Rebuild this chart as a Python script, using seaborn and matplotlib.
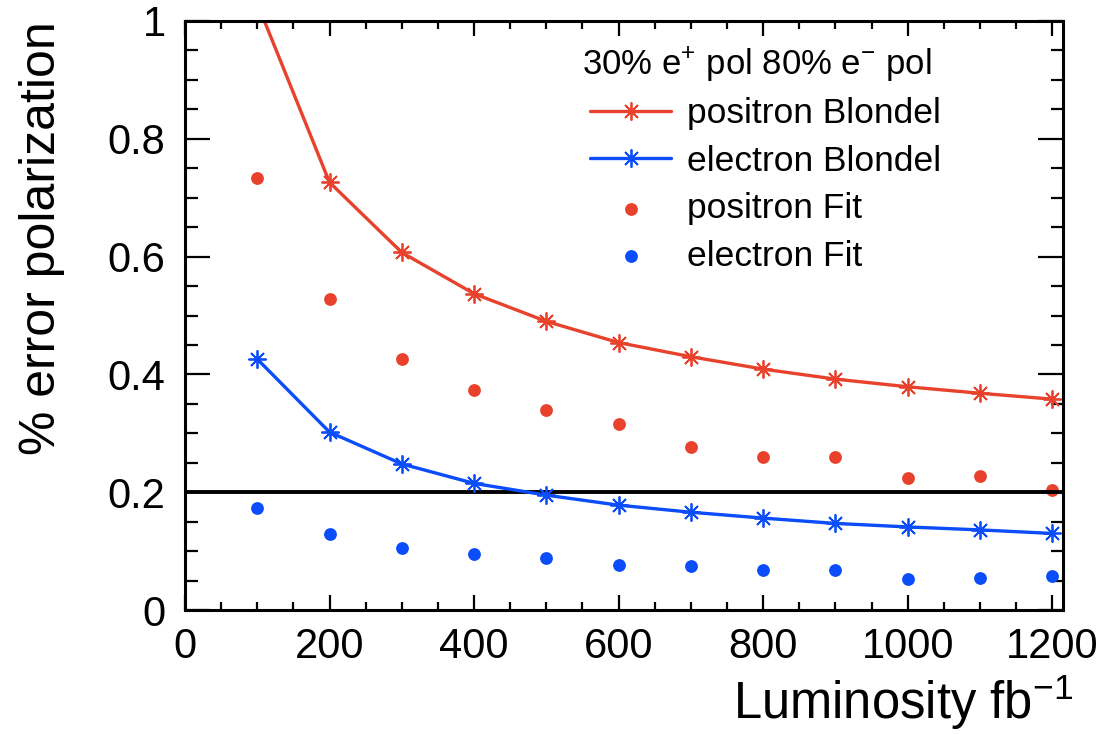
import matplotlib
matplotlib.use("Agg")
from matplotlib import pyplot as plt
from matplotlib.ticker import MultipleLocator, FuncFormatter
import seaborn as sns

# luminosity points [fb^-1]
lumi = [100, 200, 300, 400, 500, 600, 700, 800, 900, 1000, 1100, 1200]

# % error on polarization
pos_blondel = [1.03, 0.726, 0.607, 0.537, 0.490, 0.454, 0.430, 0.409, 0.392, 0.379, 0.368, 0.358]
ele_blondel = [0.426, 0.302, 0.248, 0.215, 0.195, 0.178, 0.166, 0.156, 0.147, 0.141, 0.136, 0.130]
pos_fit = [0.733, 0.528, 0.426, 0.374, 0.340, 0.315, 0.277, 0.259, 0.259, 0.224, 0.228, 0.204]
ele_fit = [0.173, 0.129, 0.106, 0.095, 0.089, 0.076, 0.075, 0.068, 0.068, 0.053, 0.054, 0.057]

target = 0.2
red = '#e8412c'
blue = '#0b4cfb'

sns.set_style("ticks")
plt.rcParams['font.family'] = ['Liberation Sans', 'DejaVu Sans']
plt.rcParams['mathtext.fontset'] = 'custom'
plt.rcParams['mathtext.rm'] = 'Liberation Sans'
plt.rcParams['mathtext.it'] = 'Liberation Sans:italic'
for key in ['text.color', 'axes.labelcolor', 'xtick.color', 'ytick.color',
            'axes.edgecolor']:
    plt.rcParams[key] = 'black'

my_dpi = 100
fig = plt.figure(figsize=(1106 / my_dpi, 734 / my_dpi), dpi=my_dpi)
ax = fig.add_axes([185 / 1106, 1 - 610 / 734, 878 / 1106, 589 / 734])

star = (8, 2, 0)
sns.lineplot(x=lumi, y=pos_blondel, color=red, linewidth=2.4, marker=star,
             markersize=13, markeredgecolor=red, markeredgewidth=1.3,
             label='positron Blondel', ax=ax)
sns.lineplot(x=lumi, y=ele_blondel, color=blue, linewidth=2.4, marker=star,
             markersize=13, markeredgecolor=blue, markeredgewidth=1.3,
             label='electron Blondel', ax=ax)
sns.scatterplot(x=lumi, y=pos_fit, color=red, s=85, linewidth=0,
                label='positron Fit', ax=ax)
sns.scatterplot(x=lumi, y=ele_fit, color=blue, s=85, linewidth=0,
                label='electron Fit', ax=ax)
ax.axhline(target, color='black', linewidth=2.8, zorder=1)

ax.set_xlim(0, 1215)
ax.set_ylim(0, 1)

ax.xaxis.set_major_locator(MultipleLocator(200))
ax.xaxis.set_minor_locator(MultipleLocator(50))
ax.yaxis.set_major_locator(MultipleLocator(0.2))
ax.yaxis.set_minor_locator(MultipleLocator(0.05))
ax.yaxis.set_major_formatter(FuncFormatter(lambda v, p: f'{v:g}'))

ax.tick_params(which='both', direction='in', top=True, right=True,
               width=1.6, color='black', labelsize=30, labelcolor='black')
ax.tick_params(axis='x', which='major', length=11, pad=12)
ax.tick_params(axis='x', which='minor', length=6)
ax.tick_params(axis='y', which='major', length=18, pad=14)
ax.tick_params(axis='y', which='minor', length=9)
for sp in ax.spines.values():
    sp.set_linewidth(2.2)
    sp.set_color('black')

ax.set_xlabel('Luminosity fb$^{-1}$', fontsize=36.5, loc='right')
ax.set_ylabel('% error polarization', fontsize=36, loc='top')
ax.xaxis.set_label_coords(1.012, -0.105)
ax.yaxis.set_label_coords(-0.137, 1.0)

# legend header (ROOT-style TLegend title)
fig.text(582 / 1106, 1 - 65 / 734, '30% e$^{+}$ pol 80% e$^{-}$ pol',
         fontsize=25, ha='left', va='center')

handles, labels = ax.get_legend_handles_labels()
ax.legend(handles, labels, loc='upper left',
          bbox_to_anchor=(590 / 1106, 1 - 97 / 734),
          bbox_transform=fig.transFigure, frameon=False, fontsize=25.5,
          handlelength=2.3, handletextpad=0.45, labelspacing=0.41,
          borderpad=0, borderaxespad=0)

plt.savefig('out.png', dpi=my_dpi)
